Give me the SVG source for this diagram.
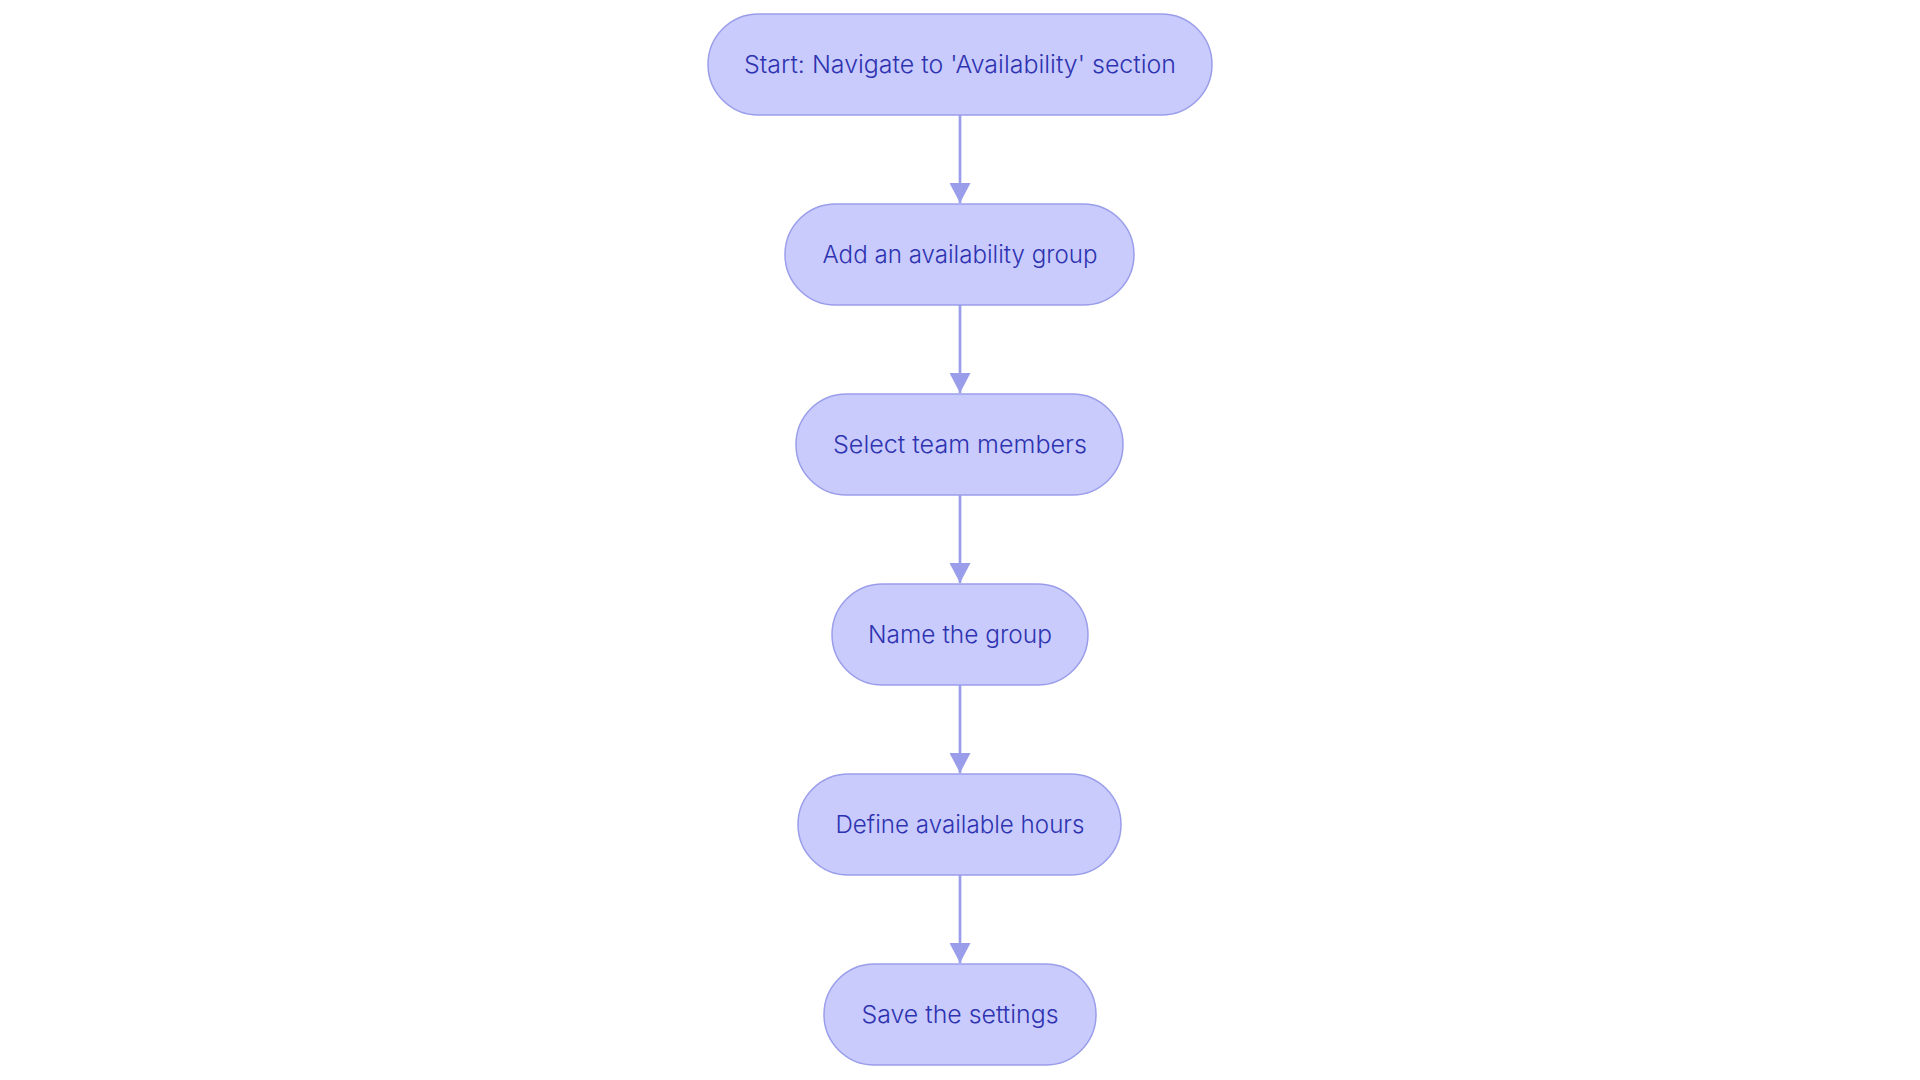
<svg xmlns="http://www.w3.org/2000/svg" width="1920" height="1080" viewBox="0 0 1920 1080">
<style>
.node rect{fill:#c9cbfd;stroke:#9a9eea;stroke-width:1.5}
.node text{font-family:Inter,"Noto Sans",sans-serif;font-size:24px;font-weight:300;fill:#2e33b0;text-anchor:middle;dominant-baseline:central}
.edge{stroke:#9a9eea;stroke-width:2.7;fill:none}
</style>
<defs>
<marker id="arrow" viewBox="0 0 20 21" refX="20" refY="10.5" markerWidth="20" markerHeight="21" markerUnits="userSpaceOnUse" orient="auto">
<path d="M0,0L20,10.5L0,21z" fill="#9a9eea"/>
</marker>
</defs>
<rect width="1920" height="1080" fill="#ffffff"/>
<g id="connectors">
<path class="edge" d="M960,115V203" marker-end="url(#arrow)"/>
<path class="edge" d="M960,305V393" marker-end="url(#arrow)"/>
<path class="edge" d="M960,495V583" marker-end="url(#arrow)"/>
<path class="edge" d="M960,685V773" marker-end="url(#arrow)"/>
<path class="edge" d="M960,875V963" marker-end="url(#arrow)"/>
</g>
<g id="n1" class="node"><rect x="708" y="14" width="504" height="101" rx="50.5"/><text x="960" y="64.5" textLength="432" lengthAdjust="spacingAndGlyphs">Start: Navigate to 'Availability' section</text></g>
<g id="n2" class="node"><rect x="785" y="204" width="349" height="101" rx="50.5"/><text x="960" y="254.5" textLength="275" lengthAdjust="spacingAndGlyphs">Add an availability group</text></g>
<g id="n3" class="node"><rect x="796" y="394" width="327" height="101" rx="50.5"/><text x="960" y="444.5" textLength="254" lengthAdjust="spacingAndGlyphs">Select team members</text></g>
<g id="n4" class="node"><rect x="832" y="584" width="256" height="101" rx="50.5"/><text x="960" y="634.5" textLength="184" lengthAdjust="spacingAndGlyphs">Name the group</text></g>
<g id="n5" class="node"><rect x="798" y="774" width="323" height="101" rx="50.5"/><text x="960" y="824.5" textLength="249" lengthAdjust="spacingAndGlyphs">Define available hours</text></g>
<g id="n6" class="node"><rect x="824" y="964" width="272" height="101" rx="50.5"/><text x="960" y="1014.5" textLength="197" lengthAdjust="spacingAndGlyphs">Save the settings</text></g>
</svg>
